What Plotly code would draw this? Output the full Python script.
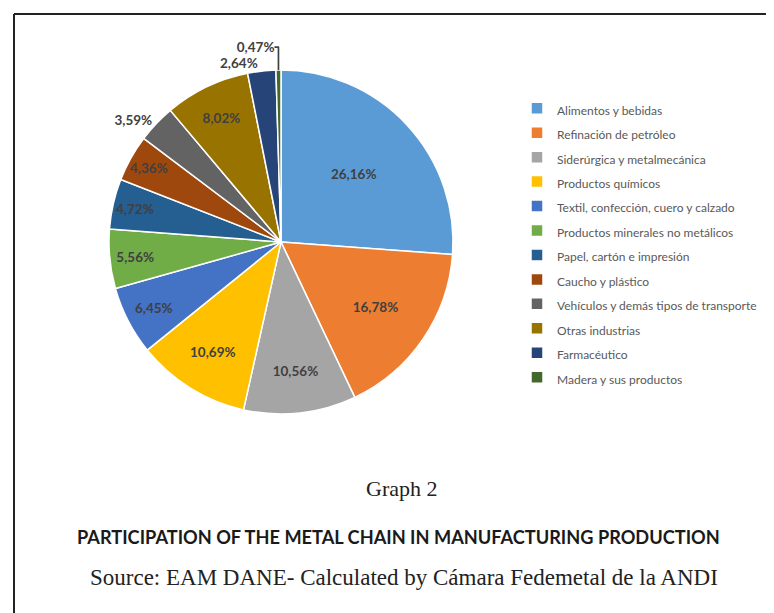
import plotly.graph_objects as go

categories = [
    "Alimentos y bebidas",
    "Refinación de petróleo",
    "Siderúrgica y metalmecánica",
    "Productos químicos",
    "Textil, confección, cuero y calzado",
    "Productos minerales no metálicos",
    "Papel, cartón e impresión",
    "Caucho y plástico",
    "Vehículos y demás tipos de transporte",
    "Otras industrias",
    "Farmacéutico",
    "Madera y sus productos",
]
values = [26.16, 16.78, 10.56, 10.69, 6.45, 5.56, 4.72, 4.36, 3.59, 8.02, 2.64, 0.47]
colors = ["#5B9BD5", "#ED7D31", "#A5A5A5", "#FFC000", "#4472C4", "#70AD47",
          "#255E91", "#9E480E", "#636363", "#997300", "#264478", "#43682B"]
text_pos = ["inside"] * 8 + ["outside", "inside", "outside", "outside"]

W, H = 774, 613
legend_labels = [f"<span style='font-size:12px'>{c}</span>" for c in categories]

fig = go.Figure(go.Pie(
    labels=legend_labels,
    values=values,
    sort=False,
    direction="clockwise",
    rotation=0,
    marker=dict(colors=colors, line=dict(color="white", width=1.5)),
    texttemplate="%{value:.2f}%",
    textposition=text_pos,
    insidetextorientation="horizontal",
    textfont=dict(family="Lato", size=13.5, color="#404040", weight="bold"),
    domain=dict(x=[101 / W, 445 / W], y=[1 - 406 / H, 1 - 62 / H]),
    hoverinfo="label+value",
))

fig.update_layout(
    width=W, height=H,
    margin=dict(l=0, r=0, t=0, b=0),
    paper_bgcolor="white",
    separators=",.",
    showlegend=True,
    legend=dict(
        x=509 / W, y=1 - 83 / H, xanchor="left", yanchor="top",
        font=dict(family="Lato", size=16.5, color="#595959"),
        itemwidth=30,
    ),
    shapes=[
        dict(type="line", xref="paper", yref="paper", x0=6 / W, x1=1, y0=1 - 6 / H, y1=1 - 6 / H,
             line=dict(color="#222222", width=2)),
        dict(type="line", xref="paper", yref="paper", x0=6 / W, x1=6 / W, y0=0, y1=1 - 6 / H,
             line=dict(color="#222222", width=2)),
    ],
    annotations=[
        dict(text="Graph 2", x=393 / W, y=1 - 495 / H, xref="paper", yref="paper",
             showarrow=False, font=dict(family="Liberation Serif", size=22, color="#222222")),
        dict(text="<b>PARTICIPATION OF THE METAL CHAIN IN MANUFACTURING PRODUCTION</b>",
             x=390 / W, y=1 - 542 / H, xref="paper", yref="paper",
             showarrow=False, font=dict(family="Lato", size=18.2, color="#1a1a1a")),
        dict(text="Source: EAM DANE- Calculated by Cámara Fedemetal de la ANDI",
             x=396 / W, y=1 - 584 / H, xref="paper", yref="paper",
             showarrow=False, font=dict(family="Liberation Serif", size=23, color="#222222")),
    ],
)

fig.write_html("out.html")
